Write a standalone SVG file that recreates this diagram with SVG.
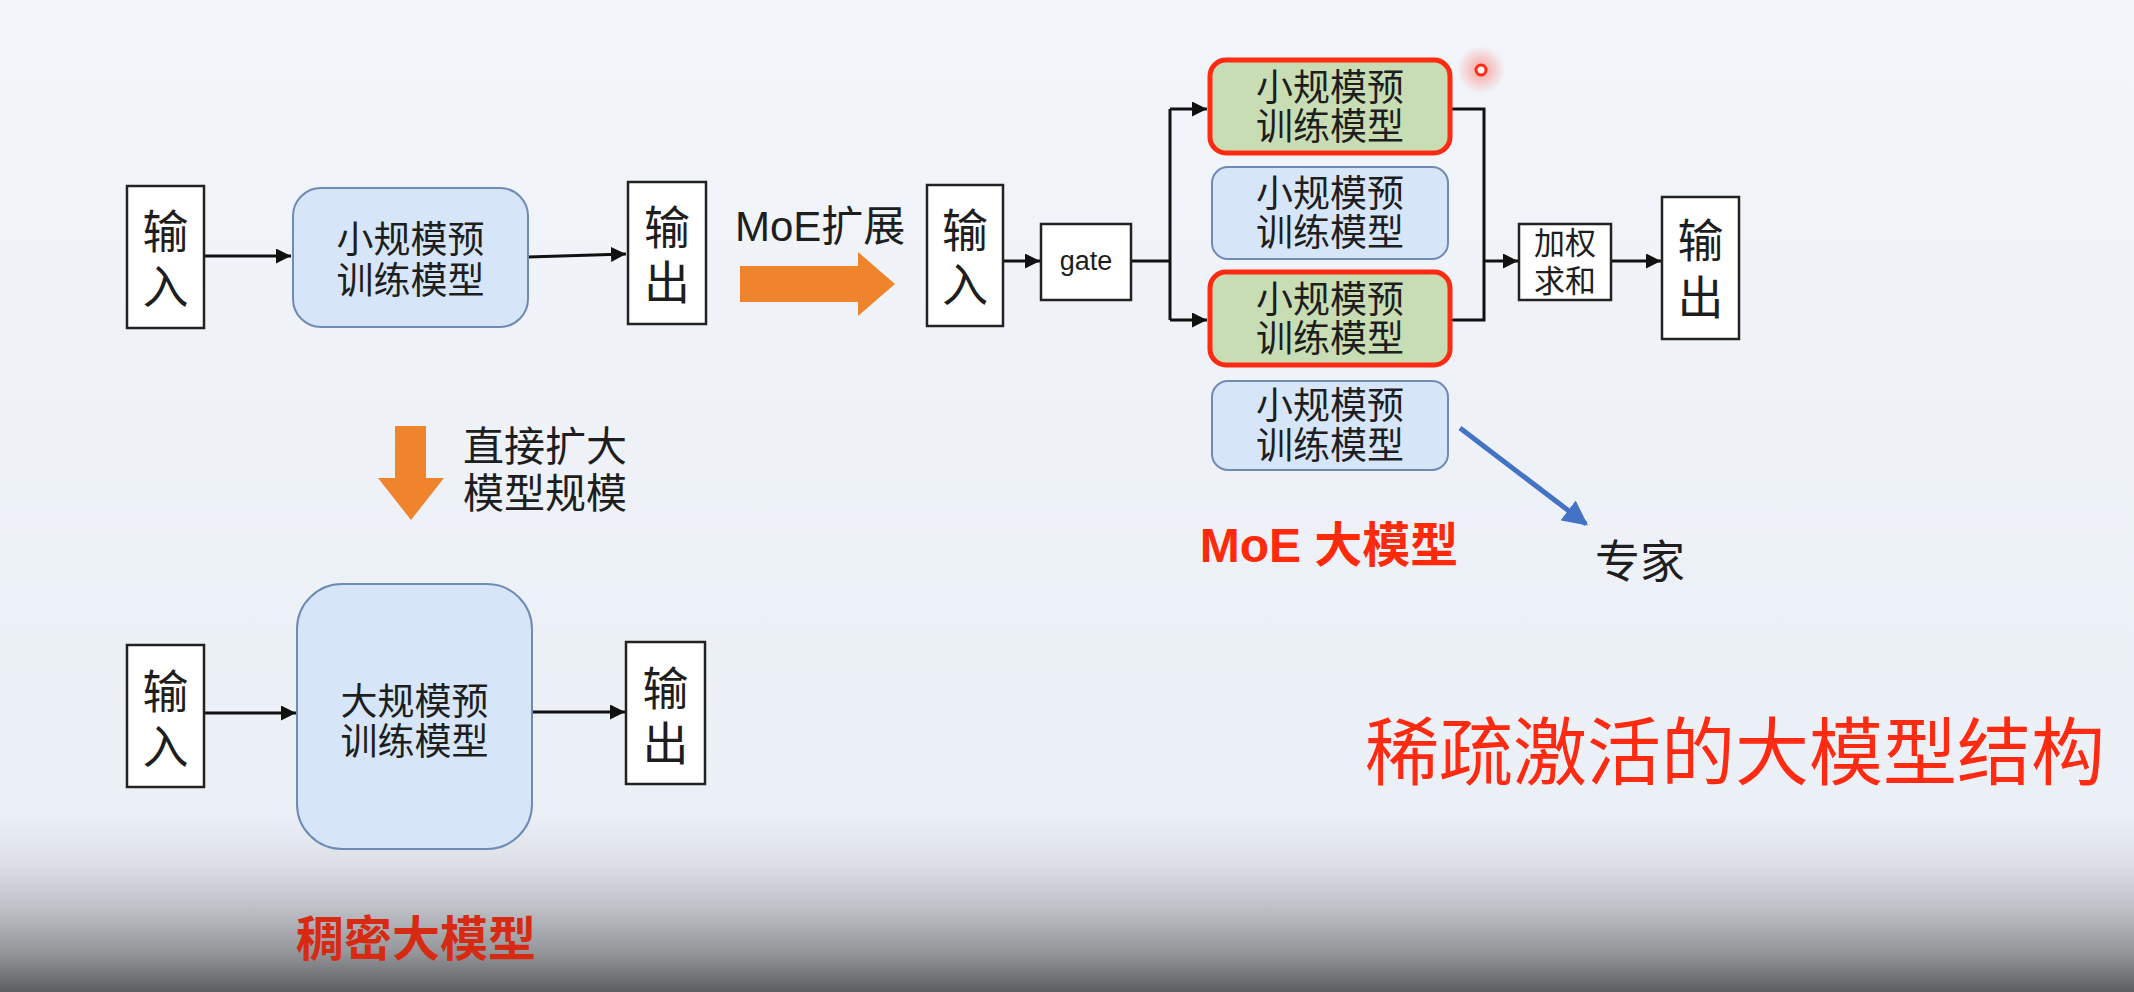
<svg xmlns="http://www.w3.org/2000/svg" width="2134" height="992" viewBox="0 0 2134 992">
<defs>
<linearGradient id="bg" x1="0" y1="0" x2="0" y2="1">
<stop offset="0" stop-color="#f2f5fa"/>
<stop offset="0.82" stop-color="#ebf0f6"/>
<stop offset="0.87" stop-color="#dde1e7"/>
<stop offset="0.91" stop-color="#c2c5cb"/>
<stop offset="0.96" stop-color="#94969a"/>
<stop offset="1" stop-color="#5c5e62"/>
</linearGradient>
<radialGradient id="glow">
<stop offset="0" stop-color="#ff3b2a" stop-opacity="0.45"/>
<stop offset="1" stop-color="#ff3b2a" stop-opacity="0"/>
</radialGradient>
<marker id="arr" viewBox="0 0 10 10" refX="10" refY="5" markerWidth="5" markerHeight="5" markerUnits="strokeWidth" orient="auto"><path d="M0,0 L10,5 L0,10 z" fill="#111"/></marker>
<marker id="barr" viewBox="0 0 10 10" refX="9" refY="5" markerWidth="5" markerHeight="5" markerUnits="strokeWidth" orient="auto"><path d="M0,0 L10,5 L0,10 z" fill="#4472c4"/></marker>
<style>
.box{fill:#ffffff;stroke:#222;stroke-width:2.5}
.model{fill:#d6e6f8;stroke:#6f8bb3;stroke-width:2}
.act{fill:#c8ddb4;stroke:#ff2a12;stroke-width:5}
.t{font-family:"Liberation Sans","Noto Sans CJK SC",sans-serif;fill:#1e1e1e;text-anchor:middle;dominant-baseline:central}
.io{font-size:46px}
.m{font-size:37px}
.red{font-family:"Liberation Sans","Noto Sans CJK SC",sans-serif;font-weight:700;text-anchor:middle;dominant-baseline:central}
.c{fill:none;stroke:#111;stroke-width:3}
.o{fill:#f0842c}
</style>
</defs>
<rect x="0" y="0" width="2134" height="992" fill="url(#bg)"/>

<g id="connectors">
<path class="c" d="M204,256 H291" marker-end="url(#arr)"/>
<path class="c" d="M528,257 L626,254" marker-end="url(#arr)"/>
<path class="c" d="M1003,261 H1040" marker-end="url(#arr)"/>
<path class="c" d="M1131,261 H1170 M1170,109 V320"/>
<path class="c" d="M1170,109 H1207" marker-end="url(#arr)"/>
<path class="c" d="M1170,320 H1207" marker-end="url(#arr)"/>
<path class="c" d="M1452,109 H1484 V320 H1452"/>
<path class="c" d="M1484,261 H1518" marker-end="url(#arr)"/>
<path class="c" d="M1611,261 H1661" marker-end="url(#arr)"/>
<path class="c" d="M204,713 H296" marker-end="url(#arr)"/>
<path class="c" d="M532,712 H625" marker-end="url(#arr)"/>
<path d="M1460,428 L1586,524" fill="none" stroke="#4472c4" stroke-width="5" marker-end="url(#barr)"/>
<polygon class="o" points="740,266 858,266 858,252 895,284 858,316 858,302 740,302"/>
<polygon class="o" points="395,426 426,426 426,478 444,478 411,520 378,478 395,478"/>
</g>

<g id="input1"><rect class="box" x="127" y="186" width="77" height="142"/>
<text class="t io" x="165.5" y="232">输</text><text class="t io" x="165.5" y="287">入</text></g>
<g id="small-model"><rect class="model" x="293" y="188" width="235" height="139" rx="28"/>
<text class="t m" x="410.5" y="240">小规模预</text><text class="t m" x="410.5" y="281">训练模型</text></g>
<g id="output1"><rect class="box" x="628" y="182" width="78" height="142"/>
<text class="t io" x="667" y="228">输</text><text class="t io" x="667" y="283">出</text></g>

<g id="moe-label"><text class="t" x="735" y="226" style="text-anchor:start;font-size:42px">MoE扩展</text></g>

<g id="input2"><rect class="box" x="927" y="185" width="76" height="141"/>
<text class="t io" x="965" y="231">输</text><text class="t io" x="965" y="285">入</text></g>
<g id="gate"><rect class="box" x="1041" y="224" width="90" height="76"/>
<text class="t" x="1086" y="261" style="font-size:27px">gate</text></g>

<g id="expert1"><rect class="act" x="1210" y="60" width="240" height="93" rx="16"/>
<text class="t m" x="1330" y="88">小规模预</text><text class="t m" x="1330" y="127">训练模型</text></g>
<g id="expert2"><rect class="model" x="1212" y="167" width="236" height="92" rx="16"/>
<text class="t m" x="1330" y="194">小规模预</text><text class="t m" x="1330" y="233">训练模型</text></g>
<g id="expert3"><rect class="act" x="1210" y="272" width="240" height="93" rx="16"/>
<text class="t m" x="1330" y="300">小规模预</text><text class="t m" x="1330" y="339">训练模型</text></g>
<g id="expert4"><rect class="model" x="1212" y="381" width="236" height="89" rx="16"/>
<text class="t m" x="1330" y="406">小规模预</text><text class="t m" x="1330" y="446">训练模型</text></g>

<g id="weighted-sum"><rect class="box" x="1519" y="224" width="92" height="76"/>
<text class="t" x="1565" y="243" style="font-size:31px">加权</text><text class="t" x="1565" y="281" style="font-size:31px">求和</text></g>
<g id="output2"><rect class="box" x="1662" y="197" width="77" height="142"/>
<text class="t io" x="1700.5" y="241">输</text><text class="t io" x="1700.5" y="298">出</text></g>

<g id="pointer"><circle cx="1481" cy="70" r="24" fill="url(#glow)"/><circle cx="1481" cy="70" r="5" fill="#fff2f0" stroke="#ff2a12" stroke-width="3"/></g>

<g id="expert-label"><text class="t" x="1640" y="562" style="font-size:45px">专家</text></g>
<g id="moe-title"><text class="red" x="1329" y="545" fill="#ff2a0a" style="font-size:48px">MoE 大模型</text></g>

<g id="scale-label"><text class="t" x="463" y="447" style="text-anchor:start;font-size:41px">直接扩大</text><text class="t" x="463" y="494" style="text-anchor:start;font-size:41px">模型规模</text></g>

<g id="input3"><rect class="box" x="127" y="645" width="77" height="142"/>
<text class="t io" x="165.5" y="692">输</text><text class="t io" x="165.5" y="747">入</text></g>
<g id="big-model"><rect class="model" x="297" y="584" width="235" height="265" rx="45"/>
<text class="t m" x="414.5" y="702">大规模预</text><text class="t m" x="414.5" y="742">训练模型</text></g>
<g id="output3"><rect class="box" x="626" y="642" width="79" height="142"/>
<text class="t io" x="665.5" y="689">输</text><text class="t io" x="665.5" y="744">出</text></g>

<g id="dense-title"><text class="red" x="416" y="939" fill="#d62b12" style="font-size:48px">稠密大模型</text></g>
<g id="sparse-title"><text x="1365" y="746" style="font-family:'Noto Sans CJK SC',sans-serif;font-size:74px;fill:#ff2a12;dominant-baseline:central">稀疏激活的大模型结构</text></g>
</svg>
